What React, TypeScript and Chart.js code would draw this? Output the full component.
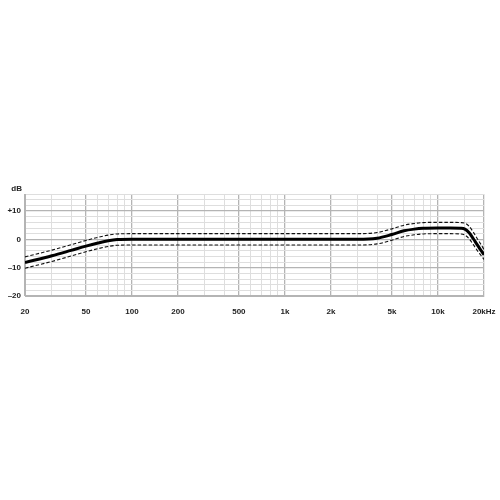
import React, { useEffect, useRef } from "react";
import { Chart, registerables } from "chart.js";

Chart.register(...registerables);

const freqs = [20, 30, 40, 50, 60, 70, 80, 100, 200, 500, 1000, 2000, 3000, 4000, 5000, 6000, 7000, 8000, 10000, 12000, 14000, 15000, 16000, 17000, 18000, 19000, 20000];
const response = [-8.2, -5.8, -3.9, -2.4, -1.3, -0.5, -0.1, 0, 0, 0, 0, 0, 0, 0.4, 1.7, 3.0, 3.6, 3.9, 4.0, 4.0, 3.9, 3.6, 2.3, 0.3, -1.8, -3.7, -5.4];
const upperTol = [-6.2, -3.8, -1.9, -0.4, 0.7, 1.5, 1.9, 2, 2, 2, 2, 2, 2, 2.4, 3.7, 5.0, 5.6, 5.9, 6.0, 6.0, 5.9, 5.7, 4.6, 2.6, 0.4, -1.6, -3.6];
const lowerTol = [-10.2, -7.8, -5.9, -4.4, -3.3, -2.5, -2.1, -2, -2, -2, -2, -2, -2, -1.6, -0.3, 1.0, 1.6, 1.9, 2.0, 2.0, 1.9, 1.5, 0.2, -1.8, -3.8, -5.5, -7.1];

const xGrid = [20, 30, 40, 50, 60, 70, 80, 90, 100, 200, 300, 400, 500, 600, 700, 800, 900, 1000, 2000, 3000, 4000, 5000, 6000, 7000, 8000, 9000, 10000, 15000, 20000];
const xLabels: Record<number, string> = { 20: "20", 50: "50", 100: "100", 200: "200", 500: "500", 1000: "1k", 2000: "2k", 5000: "5k", 10000: "10k", 20000: "20kHz" };
const yGrid = [-20, -18, -16, -14, -12, -10, -8, -6, -4, -2, 0, 2, 4, 6, 8, 10, 12, 14, 16];
const yLabels: Record<number, string> = { 10: "+10", 0: "0", "-10": "–10", "-20": "–20" } as any;
const yUnit = "dB";

const FONT = "'Liberation Sans', Arial, sans-serif";

export default function App() {
  const ref = useRef<HTMLCanvasElement | null>(null);
  useEffect(() => {
    if (!ref.current) return;
    const pts = (arr: number[]) => freqs.map((f, i) => ({ x: f, y: arr[i] }));
    const unitPlugin = {
      id: "unitLabel",
      afterDraw(chart: any) {
        const ctx = chart.ctx;
        ctx.save();
        ctx.font = `bold 8px ${FONT}`;
        ctx.fillStyle = "#222";
        ctx.textAlign = "right";
        ctx.textBaseline = "middle";
        ctx.fillText(yUnit, 22, 189);
        ctx.restore();
      },
    };
    const chart = new Chart(ref.current, {
      type: "line",
      data: {
        datasets: [
          { data: pts(upperTol), borderColor: "#111", borderWidth: 1.1, borderDash: [3.5, 2], pointRadius: 0, fill: false, cubicInterpolationMode: "monotone" },
          { data: pts(lowerTol), borderColor: "#111", borderWidth: 1.1, borderDash: [3.5, 2], pointRadius: 0, fill: false, cubicInterpolationMode: "monotone" },
          { data: pts(response), borderColor: "#000", borderWidth: 3, pointRadius: 0, fill: false, cubicInterpolationMode: "monotone" },
        ],
      },
      options: {
        responsive: false,
        animation: false,
        layout: { padding: { top: 194, left: 0, right: 16, bottom: 184 } },
        plugins: { legend: { display: false }, tooltip: { enabled: false } },
        scales: {
          x: {
            type: "logarithmic",
            min: 20,
            max: 20000,
            afterBuildTicks: (s: any) => { s.ticks = xGrid.map((v) => ({ value: v })); },
            afterFit: (s: any) => { s.height = 20; s.paddingLeft = 0; s.paddingRight = 0; },
            grid: {
              drawTicks: false,
              color: (c: any) => (xLabels[c.tick?.value] ? "#b4b4b4" : "#dedede"),
              lineWidth: (c: any) => (xLabels[c.tick?.value] ? 1.3 : 1),
            },
            border: { display: true, color: "#b4b4b4" },
            ticks: {
              autoSkip: false,
              maxRotation: 0,
              padding: 11,
              color: "#222",
              font: { family: FONT, size: 8, weight: "bold" },
              callback: (v: any) => xLabels[v as number] ?? "",
            },
          },
          y: {
            min: -20,
            max: 16,
            afterBuildTicks: (s: any) => { s.ticks = yGrid.map((v) => ({ value: v })); },
            afterFit: (s: any) => { s.width = 25; s.paddingTop = 0; s.paddingBottom = 0; },
            grid: {
              drawTicks: false,
              color: (c: any) => (c.tick && c.tick.value % 10 === 0 ? "#b4b4b4" : "#dedede"),
              lineWidth: (c: any) => (c.tick && c.tick.value % 10 === 0 ? 1.3 : 1),
            },
            border: { display: true, color: "#b4b4b4" },
            ticks: {
              autoSkip: false,
              padding: 4,
              color: "#222",
              font: { family: FONT, size: 8, weight: "bold" },
              callback: (v: any) => (yLabels as any)[v] ?? "",
            },
          },
        },
      },
      plugins: [unitPlugin],
    } as any);
    return () => chart.destroy();
  }, []);
  return (
    <div style={{ position: "fixed", left: 0, top: 0, width: 500, height: 500, background: "#fff" }}>
      <canvas ref={ref} width={500} height={500} style={{ display: "block" }} />
    </div>
  );
}
